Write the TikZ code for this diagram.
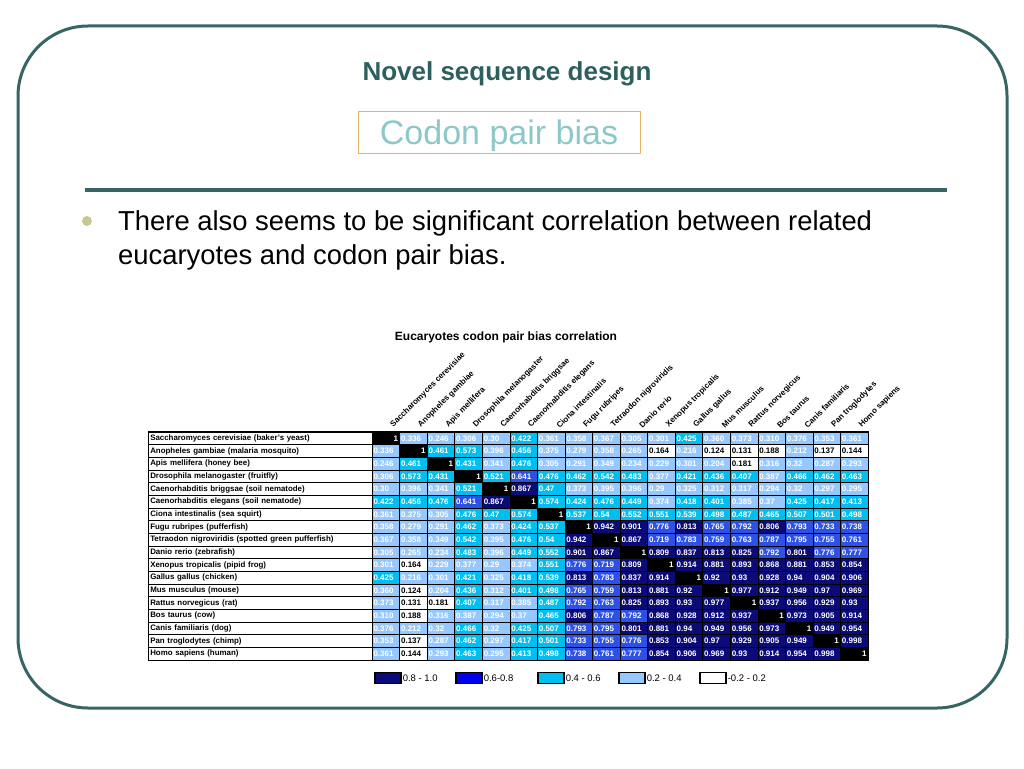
\documentclass[tikz,border=0pt]{standalone}
\usepackage{fontspec}
\setmainfont{Liberation Sans}
\usepackage{xcolor}
\usepackage{tikz}
\usetikzlibrary{positioning}

\definecolor{frameteal}{RGB}{55,100,100}
\definecolor{titleteal}{RGB}{45,95,95}
\definecolor{boxorange}{RGB}{232,178,100}
\definecolor{codonteal}{RGB}{140,200,200}
\definecolor{bulletkhaki}{RGB}{200,200,150}
\definecolor{navycell}{RGB}{10,10,120}
\definecolor{bluecell}{RGB}{45,80,230}
\definecolor{cyancell}{RGB}{0,190,240}
\definecolor{lightcell}{RGB}{150,200,255}
\definecolor{legblue}{RGB}{0,0,235}

\begin{document}
\begin{tikzpicture}
  [x=1pt,y=-1pt,every node/.style={inner sep=0pt},
   cell/.style={draw=black,line width=.5pt,minimum height=12.667pt,text width=24.5pt,inner xsep=1.5pt,align=left,font=\fontsize{8}{8}\selectfont\bfseries},
   rowlab/.style={draw=black,line width=.5pt,anchor=west,minimum height=12.667pt,text width=220pt,inner xsep=2pt,align=left,font=\fontsize{7.9}{8}\selectfont\bfseries},
   colhead/.style={anchor=south west,rotate=45,font=\fontsize{8}{8}\selectfont\bfseries},
   legbox/.style={draw=black,line width=1.2pt,minimum width=26pt,minimum height=11pt},
   leglab/.style={font=\fontsize{9.5}{10}\selectfont}] % positions are in pixels, y runs downwards

    \useasboundingbox (0,0) rectangle (1024,768);
    \draw[frameteal,line width=3pt,rounded corners=70pt] (18,26) rectangle (1007,708);

    \node[font=\fontsize{26}{28}\selectfont\bfseries,text=titleteal,anchor=base] (title) at (507,81) {Novel sequence design};
    \node[draw=boxorange,line width=1pt,minimum width=282pt,minimum height=42pt] (subbox) at (499,132) {};
    \node[font=\fontsize{34}{36}\selectfont,text=codonteal,anchor=base] (sub) at (499,144) {Codon pair bias};

    \coordinate (ruleL) at (85,190);
    \coordinate (ruleR) at (947,190);
    \draw[frameteal,line width=4pt] (ruleL) -- (ruleR);

    \fill[bulletkhaki] (87,221) circle (5pt);
    \node[font=\fontsize{27.4}{30}\selectfont,anchor=base west] (body1) at (118,230) {There also seems to be significant correlation between related};
    \node[font=\fontsize{27.4}{30}\selectfont,anchor=base west] (body2) at (118,264) {eucaryotes and codon pair bias.};

    \node[font=\fontsize{12}{12}\selectfont\bfseries] (caption) at (506,337) {Eucaryotes codon pair bias correlation};

    % column heads
    \foreach \nm [count=\j] in {Saccharomyces cerevisiae,Anopheles gambiae,Apis mellifera,Drosophila melanogaster,Caenorhabditis briggsae,Caenorhabditis elegans,Ciona intestinalis,Fugu rubripes,Tetraodon nigroviridis,Danio rerio,Xenopus tropicalis,Gallus gallus,Mus musculus,Rattus norvegicus,Bos taurus,Canis familiaris,Pan troglodytes,Homo sapiens}
      \node[colhead] (h\j) at ({372+\j*27.556-5},429) {\nm};

    % row labels
    \foreach \lab [count=\i] in {Saccharomyces cerevisiae (baker's yeast),Anopheles gambiae (malaria mosquito),Apis mellifera (honey bee),Drosophila melanogaster (fruitfly),Caenorhabditis briggsae (soil nematode),Caenorhabditis elegans (soil nematode),Ciona intestinalis (sea squirt),Fugu rubripes (pufferfish),Tetraodon nigroviridis (spotted green pufferfish),Danio rerio (zebrafish),Xenopus tropicalis (pipid frog),Gallus gallus (chicken),Mus musculus (mouse),Rattus norvegicus (rat),Bos taurus (cow),Canis familiaris (dog),Pan troglodytes (chimp),Homo sapiens (human)}
      \node[rowlab] (r\i) at (148,{432+(\i-0.5)*12.667}) {\lab};

    % correlation cells
    \foreach \vals [count=\i] in {
      {1,0.336,0.246,0.306,0.30,0.422,0.361,0.358,0.367,0.305,0.301,0.425,0.360,0.373,0.310,0.376,0.353,0.361},
      {0.336,1,0.461,0.573,0.396,0.456,0.375,0.279,0.358,0.265,0.164,0.216,0.124,0.131,0.188,0.212,0.137,0.144},
      {0.246,0.461,1,0.431,0.341,0.476,0.305,0.291,0.349,0.234,0.229,0.301,0.204,0.181,0.316,0.32,0.287,0.293},
      {0.306,0.573,0.431,1,0.521,0.641,0.476,0.462,0.542,0.483,0.377,0.421,0.436,0.407,0.387,0.466,0.462,0.463},
      {0.30,0.396,0.341,0.521,1,0.867,0.47,0.373,0.395,0.396,0.29,0.325,0.312,0.317,0.294,0.32,0.297,0.295},
      {0.422,0.456,0.476,0.641,0.867,1,0.574,0.424,0.476,0.449,0.374,0.418,0.401,0.385,0.37,0.425,0.417,0.413},
      {0.361,0.375,0.305,0.476,0.47,0.574,1,0.537,0.54,0.552,0.551,0.539,0.498,0.487,0.465,0.507,0.501,0.498},
      {0.358,0.279,0.291,0.462,0.373,0.424,0.537,1,0.942,0.901,0.776,0.813,0.765,0.792,0.806,0.793,0.733,0.738},
      {0.367,0.358,0.349,0.542,0.395,0.476,0.54,0.942,1,0.867,0.719,0.783,0.759,0.763,0.787,0.795,0.755,0.761},
      {0.305,0.265,0.234,0.483,0.396,0.449,0.552,0.901,0.867,1,0.809,0.837,0.813,0.825,0.792,0.801,0.776,0.777},
      {0.301,0.164,0.229,0.377,0.29,0.374,0.551,0.776,0.719,0.809,1,0.914,0.881,0.893,0.868,0.881,0.853,0.854},
      {0.425,0.216,0.301,0.421,0.325,0.418,0.539,0.813,0.783,0.837,0.914,1,0.92,0.93,0.928,0.94,0.904,0.906},
      {0.360,0.124,0.204,0.436,0.312,0.401,0.498,0.765,0.759,0.813,0.881,0.92,1,0.977,0.912,0.949,0.97,0.969},
      {0.373,0.131,0.181,0.407,0.317,0.385,0.487,0.792,0.763,0.825,0.893,0.93,0.977,1,0.937,0.956,0.929,0.93},
      {0.310,0.188,0.316,0.387,0.294,0.37,0.465,0.806,0.787,0.792,0.868,0.928,0.912,0.937,1,0.973,0.905,0.914},
      {0.376,0.212,0.32,0.466,0.32,0.425,0.507,0.793,0.795,0.801,0.881,0.94,0.949,0.956,0.973,1,0.949,0.954},
      {0.353,0.137,0.287,0.462,0.297,0.417,0.501,0.733,0.755,0.776,0.853,0.904,0.97,0.929,0.905,0.949,1,0.998},
      {0.361,0.144,0.293,0.463,0.295,0.413,0.498,0.738,0.761,0.777,0.854,0.906,0.969,0.93,0.914,0.954,0.998,1}}
      \foreach \v [count=\j] in \vals {
        \pgfmathtruncatemacro\cls{\v>=0.8 ? 4 : (\v>=0.6 ? 3 : (\v>=0.4 ? 2 : (\v>=0.2 ? 1 : 0)))}
        \ifcase\cls \def\cf{white}\def\tc{black}\or \def\cf{lightcell}\def\tc{white}\or \def\cf{cyancell}\def\tc{white}\or \def\cf{bluecell}\def\tc{white}\or \def\cf{navycell}\def\tc{white}\fi
        \ifnum\i=\j
          \node[cell,fill=black,text=white,align=right] (c-\i-\j) at ({372+(\j-0.5)*27.556},{432+(\i-0.5)*12.667}) {\v};
        \else
          \node[cell,fill=\cf,text=\tc] (c-\i-\j) at ({372+(\j-0.5)*27.556},{432+(\i-0.5)*12.667}) {\v};
        \fi
      };

    \draw[line width=.8pt] (r1.north west) rectangle (c-18-18.south east);

    % legend
    \node[legbox,fill=navycell] (k1) at (388,678) {};
    \node[leglab,right=1pt of k1] (l1) {0.8 - 1.0};
    \node[legbox,fill=legblue] (k2) at (469,678) {};
    \node[leglab,right=1pt of k2] (l2) {0.6-0.8};
    \node[legbox,fill=cyancell] (k3) at (551,678) {};
    \node[leglab,right=1pt of k3] (l3) {0.4 - 0.6};
    \node[legbox,fill=lightcell] (k4) at (632,678) {};
    \node[leglab,right=1pt of k4] (l4) {0.2 - 0.4};
    \node[legbox,fill=white] (k5) at (713,678) {};
    \node[leglab,right=1pt of k5] (l5) {-0.2 - 0.2};

\end{tikzpicture}
\end{document}
